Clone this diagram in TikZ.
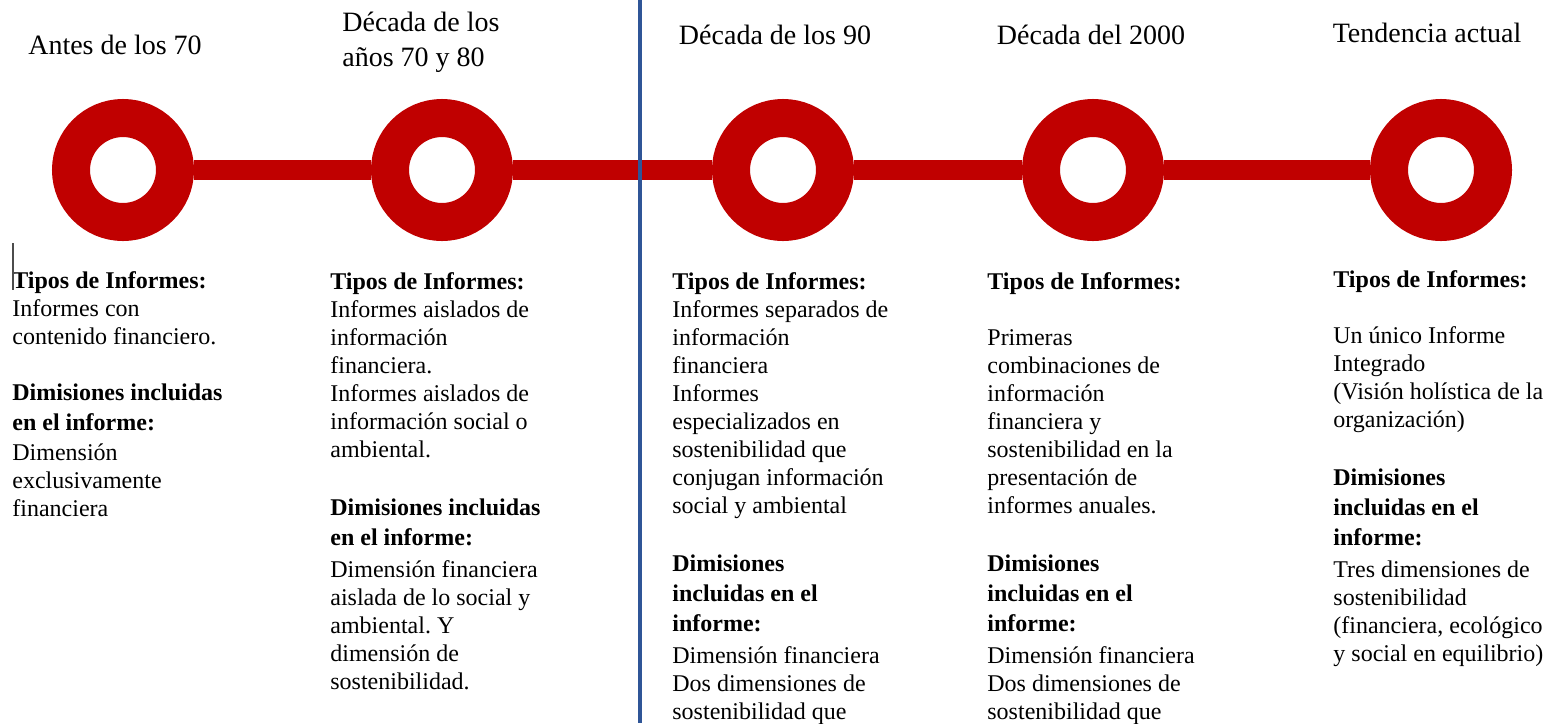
\documentclass[tikz,border=0pt]{standalone}
\usepackage{fontspec}
\setmainfont{Liberation Serif}
\frenchspacing
\definecolor{rojo}{HTML}{C00000}
\definecolor{azul}{HTML}{2F5597}
\tikzset{
  hito/.style = {circle, draw = rojo, line width = 19pt, minimum size = 52pt, inner sep = 0pt},
  barra/.style = {draw = rojo, line width = 10pt},
  titulo/.style = {font = \fontsize{14}{17.5}\selectfont, align = left, inner sep = 0pt},
  texto/.style = {font = \fontsize{12}{14}\selectfont, align = left, anchor = north west, inner sep = 0pt}
}

\begin{document}
\begin{tikzpicture}[x = 0.5pt, y = -0.5pt]
  \useasboundingbox (0, 0) rectangle (1547, 723);
  \clip (0, 0) rectangle (1547, 723);
  % linea de tiempo
  \node [hito] (h1) at (123, 170) {};
  \node [hito] (h2) at (442, 170) {};
  \node [hito] (h3) at (783, 170) {};
  \node [hito] (h4) at (1093, 170) {};
  \node [hito] (h5) at (1441, 170) {};
  \draw [barra] (h1) -- (h2);
  \draw [barra] (h2) -- (h3);
  \draw [barra] (h3) -- (h4);
  \draw [barra] (h4) -- (h5);
  % titulos
  \node [titulo] (t1) at (115, 45) {Antes de los 70};
  \node [titulo, anchor = west] (t2) at (342, 42) {Década de los\\años 70 y 80};
  \node [titulo] (t3) at (775, 35) {Década de los 90};
  \node [titulo] (t4) at (1091, 35) {Década del 2000};
  \node [titulo] (t5) at (1427, 33) {Tendencia actual};
  % descripciones
  \node [texto] (d1) at (12, 271) {\textbf{Tipos de Informes:}\\
    Informes con\\
    contenido financiero.\\[14pt]
    \textbf{Dimisiones incluidas}\\[1pt]
    \textbf{en el informe:}\\[1pt]
    Dimensión\\
    exclusivamente\\
    financiera};
  \node [texto] (d2) at (330, 272) {\textbf{Tipos de Informes:}\\
    Informes aislados de\\
    información\\
    financiera.\\
    Informes aislados de\\
    información social o\\
    ambiental.\\[15pt]
    \textbf{Dimisiones incluidas}\\[1pt]
    \textbf{en el informe:}\\[2pt]
    Dimensión financiera\\
    aislada de lo social y\\
    ambiental. Y\\
    dimensión de\\
    sostenibilidad.};
  \node [texto] (d3) at (672, 272) {\textbf{Tipos de Informes:}\\
    Informes separados de\\
    información\\
    financiera\\
    Informes\\
    especializados en\\
    sostenibilidad que\\
    conjugan información\\
    social y ambiental\\[15pt]
    \textbf{Dimisiones}\\[1pt]
    \textbf{incluidas en el}\\[1pt]
    \textbf{informe:}\\[2pt]
    Dimensión financiera\\
    Dos dimensiones de\\
    sostenibilidad que};
  \node [texto] (d4) at (987, 272) {\textbf{Tipos de Informes:}\\[14pt]
    Primeras\\
    combinaciones de\\
    información\\
    financiera y\\
    sostenibilidad en la\\
    presentación de\\
    informes anuales.\\[15pt]
    \textbf{Dimisiones}\\[1pt]
    \textbf{incluidas en el}\\[1pt]
    \textbf{informe:}\\[2pt]
    Dimensión financiera\\
    Dos dimensiones de\\
    sostenibilidad que};
  \node [texto] (d5) at (1333, 270) {\textbf{Tipos de Informes:}\\[14pt]
    Un único Informe\\
    Integrado\\
    (Visión holística de la\\
    organización)\\[15pt]
    \textbf{Dimisiones}\\[1pt]
    \textbf{incluidas en el}\\[1pt]
    \textbf{informe:}\\[2pt]
    Tres dimensiones de\\
    sostenibilidad\\
    (financiera, ecológico\\
    y social en equilibrio)};
  % separador y cursor
  \draw [azul, line width = 2pt] (640, 0) -- (640, 723);
  \draw [gray!60!black, line width = 0.6pt] (13, 243) -- (13, 290);
\end{tikzpicture}
\end{document}
